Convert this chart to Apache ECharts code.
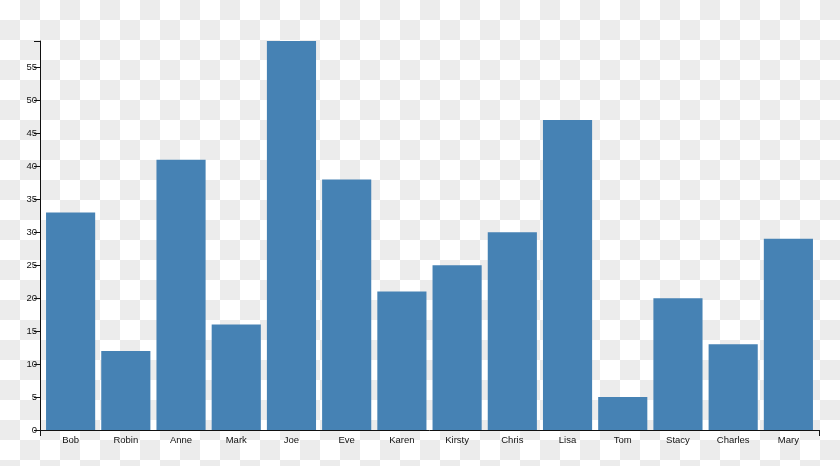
<!DOCTYPE html>
<html>
<head>
<meta charset="utf-8">
<script src="https://cdn.jsdelivr.net/npm/echarts@6/dist/echarts.min.js"></script>
<style>
html,body{margin:0;padding:0;}
body{background: repeating-conic-gradient(#ececec 0 25%, #ffffff 0 50%) 0 0/40px 40px;}
#chart{width:840px;height:466px;}
</style>
</head>
<body>
<div id="chart"></div>
<script>
const categories = ["Bob","Robin","Anne","Mark","Joe","Eve","Karen","Kirsty","Chris","Lisa","Tom","Stacy","Charles","Mary"];
const values = [33,12,41,16,59,38,21,25,30,47,5,20,13,29];
const yMax = 59;

const FONT = 'Liberation Sans, Arial, sans-serif';
const AX = '#111';
const chart = echarts.init(document.getElementById('chart'), null, {renderer:'canvas'});
chart.setOption({
  backgroundColor: 'transparent',
  animation: false,
  grid: [
    {left: 43, right: 24, top: 41, bottom: 36, containLabel: false},
    {left: 40, right: 21, top: 41, bottom: 36, containLabel: false}
  ],
  xAxis: [{
    gridIndex: 0,
    type: 'category',
    data: categories,
    axisLine: {show: false},
    axisTick: {alignWithLabel: true, length: 6, lineStyle: {color: AX}},
    axisLabel: {color: AX, fontSize: 9.5, fontFamily: FONT, margin: 5}
  }, {
    gridIndex: 1,
    type: 'value', min: 0, max: 1, interval: 1,
    splitLine: {show: false},
    axisLine: {show: true, lineStyle: {color: AX, width: 1}},
    axisTick: {show: true, length: 6, lineStyle: {color: AX}},
    axisLabel: {show: false}
  }],
  yAxis: [{
    gridIndex: 0,
    type: 'value',
    min: 0, max: yMax, interval: 5,
    offset: 3,
    splitLine: {show: false},
    axisLine: {show: false},
    axisTick: {show: true, length: 6, lineStyle: {color: AX}},
    axisLabel: {color: AX, fontSize: 9.5, fontFamily: FONT, margin: 3, showMaxLabel: false}
  }, {
    gridIndex: 1,
    type: 'value', min: 0, max: 1, interval: 1,
    splitLine: {show: false},
    axisLine: {show: true, lineStyle: {color: AX, width: 1}},
    axisTick: {show: true, length: 6, lineStyle: {color: AX}},
    axisLabel: {show: false}
  }],
  series: [{
    type: 'bar',
    xAxisIndex: 0, yAxisIndex: 0,
    data: values,
    barCategoryGap: '11%',
    itemStyle: {color: '#4682b4'}
  }]
});
</script>
</body>
</html>
